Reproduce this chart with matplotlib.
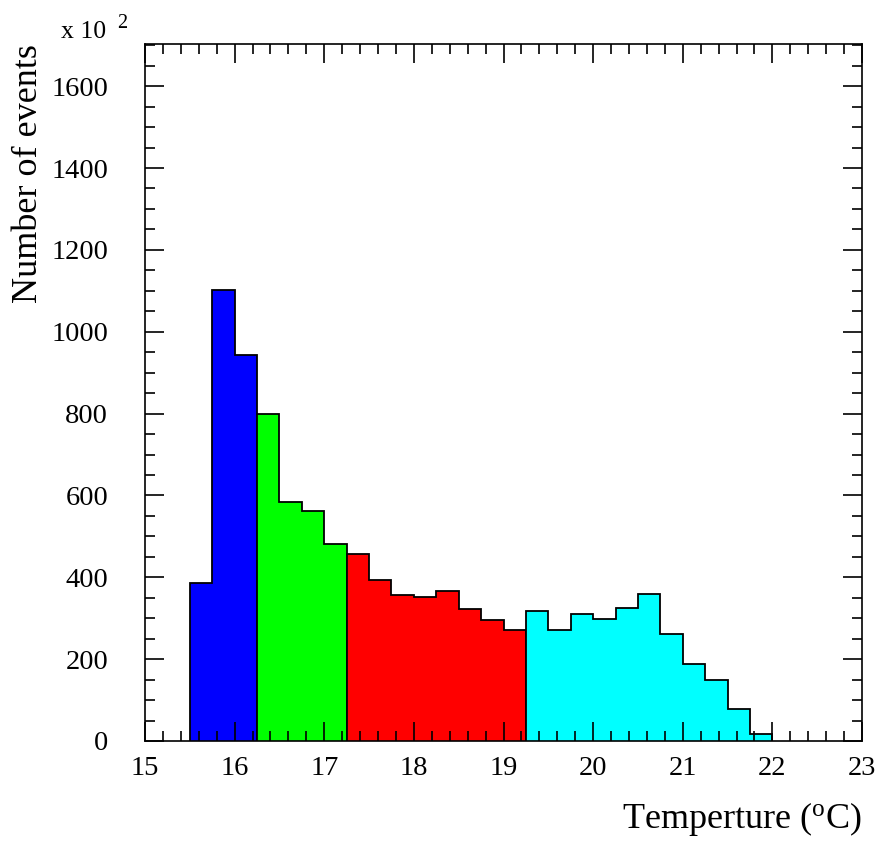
import matplotlib.pyplot as plt
import numpy as np
from matplotlib.ticker import MultipleLocator

plt.rcParams['font.family'] = ['Liberation Serif', 'DejaVu Serif']

# bin contents in units of 10^2 events, bins of 0.25 degC starting at 15.5
bin_lo = 15.5
bin_w = 0.25
blue_vals = [386, 1101, 942]
green_vals = [800, 584, 561, 482]
red_vals = [458, 393, 357, 352, 366, 322, 296, 271]
cyan_vals = [318, 270, 310, 299, 326, 359, 262, 188, 150, 77, 16]

segments = [(blue_vals, '#0000ff'), (green_vals, '#00ff00'),
            (red_vals, '#ff0000'), (cyan_vals, '#00ffff')]

fig = plt.figure(figsize=(8.81, 8.43), dpi=100)
ax = fig.add_axes([145/881, 102/843, 717/881, 697/843])

start = bin_lo
for vals, col in segments:
    edges = start + bin_w*np.arange(len(vals)+1)
    ax.stairs(vals, edges, fill=True, facecolor=col, edgecolor='none')
    ax.stairs(vals, edges, baseline=0, color='black', lw=1.3)
    start = edges[-1]

## FORMATTING
ax.set_xlim(15, 23)
ax.set_ylim(0, 1703)
ax.xaxis.set_major_locator(MultipleLocator(1))
ax.xaxis.set_minor_locator(MultipleLocator(0.2))
ax.yaxis.set_major_locator(MultipleLocator(200))
ax.yaxis.set_minor_locator(MultipleLocator(50))
ax.tick_params(which='both', direction='in', top=True, right=True, width=1.2,
               labelsize=20.5)
ax.tick_params(which='major', length=14)
ax.tick_params(which='minor', length=7.5)
ax.tick_params(axis='x', pad=11)
ax.tick_params(axis='y', pad=26.5)
for s in ax.spines.values():
    s.set_linewidth(1.2)

ax.set_xlabel('Temperture ($\\mathregular{^{o}}$C)', fontsize=26, ha='right')
ax.xaxis.label.set_va('baseline')
ax.xaxis.set_label_coords(1.0, -87/697)
ax.set_ylabel('Number of events', fontsize=26, ha='right')
ax.yaxis.label.set_va('baseline')
ax.yaxis.set_label_coords(-108/717, 1.0)

fig.text(61/881, 1-38/843, 'x 10', fontsize=18.5, ha='left', va='baseline')
fig.text(117/881, 1-28/843, '2', fontsize=14.5, ha='left', va='baseline')

fig.savefig('out.png', dpi=100)
